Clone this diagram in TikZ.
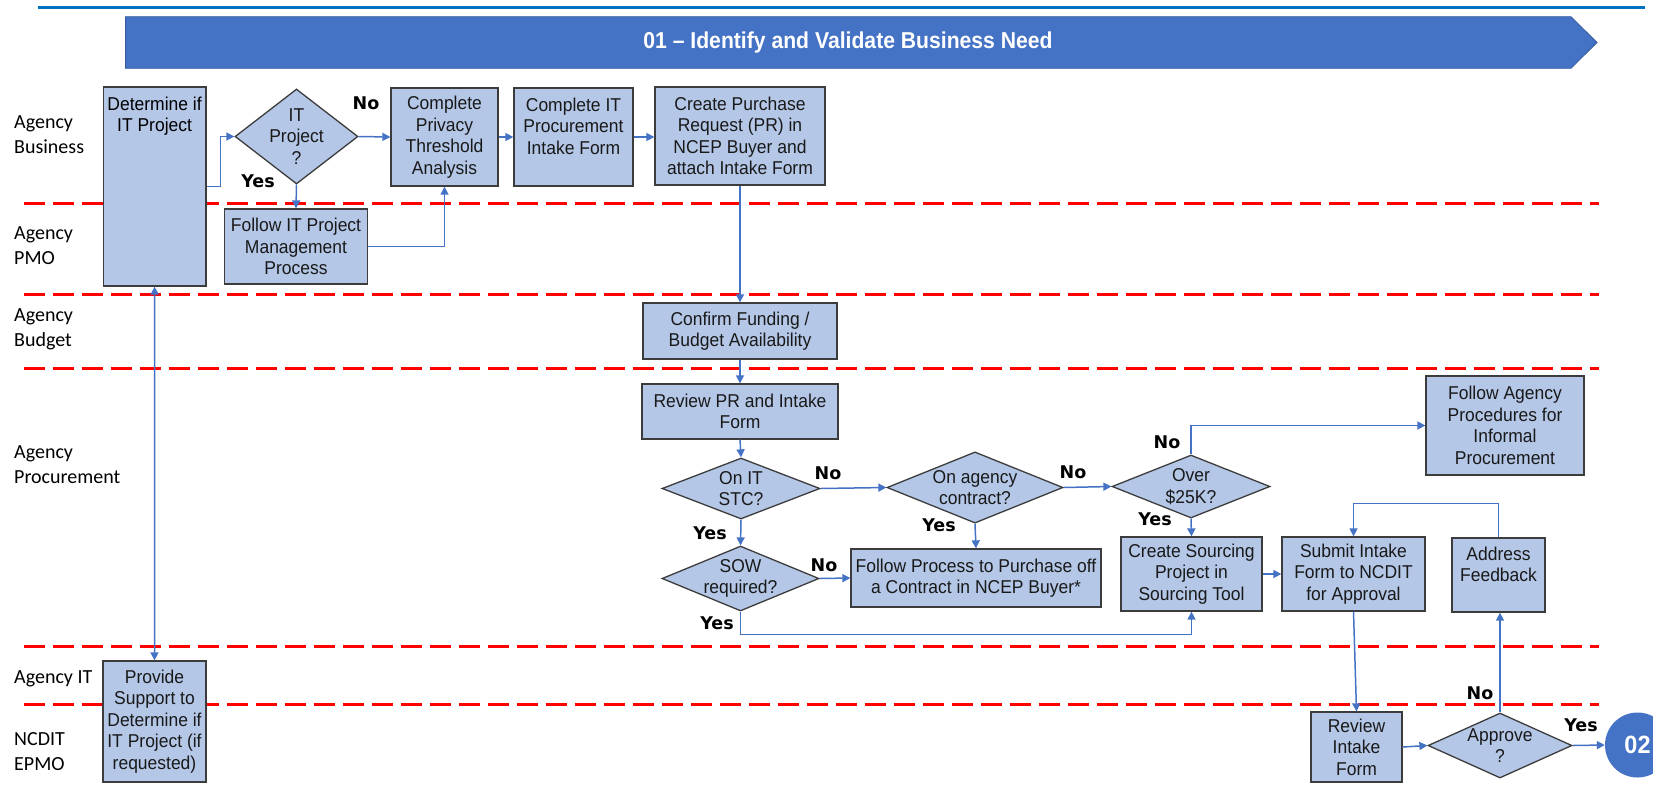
\documentclass[tikz,border=0pt]{standalone}
\usepackage{fontspec}
\setmainfont{Liberation Sans}[FakeStretch=0.94]
\newfontfamily\lanefamily{Carlito}
\newfontfamily\ansfamily{DejaVu Sans}
\newfontfamily\bannerfamily{Liberation Sans}[FakeStretch=0.92]
\usepackage{tikz}
\usetikzlibrary{
    arrows.meta,
    shapes.geometric
}
\definecolor{boxfill}{RGB}{180,199,231}
\definecolor{boxline}{RGB}{60,60,60}
\definecolor{flowblue}{RGB}{68,114,196}
\definecolor{bannerblue}{RGB}{68,114,196}
\definecolor{rulerblue}{RGB}{0,112,192}
\newcommand{\procfont}{\fontsize{18.6}{21.5}\selectfont}
\newcommand{\lanefont}{\lanefamily\fontsize{20}{25}\selectfont}
\newcommand{\ansfont}{\ansfamily\bfseries\fontsize{17.5}{21}\selectfont}
\newcommand{\bannerfont}{\bannerfamily\bfseries\fontsize{23}{26}\selectfont}
\tikzset{
    pbox/.style 2 args={draw=boxline, fill=boxfill, line width=1.3pt, font=\procfont, text=black!90,
        align=center, inner sep=1pt, minimum width=#1pt, minimum height=#2pt},
    dbox/.style 2 args={pbox={#1}{#2}, diamond, inner sep=-12pt},
    flow/.style={draw=flowblue, line width=1.5pt, -{Triangle[length=8pt,width=8pt]}},
    flowboth/.style={flow, {Triangle[length=8pt,width=8pt]}-{Triangle[length=8pt,width=8pt]}},
    lane/.style={font=\lanefont, anchor=west, align=left, inner sep=0pt},
    ans/.style={font=\ansfont, inner sep=0pt},
    lanesep/.style={red, line width=3pt, dash pattern=on 21pt off 8pt}
}

\begin{document}
\begin{tikzpicture}[x=1pt, y=-1pt]
        \useasboundingbox (0,0) rectangle (1653,785);

        % header
        \draw[rulerblue, line width=3pt] (37.5,7.3) -- (1645,7.3);
        \filldraw[fill=bannerblue, draw=bannerblue!80!black, line width=0.8pt]
            (125.5,16.7) -- (1571,16.7) -- (1597,42.5) -- (1571,68.3) -- (125.5,68.3) -- cycle;
        \draw (848,42.5) node[font=\bannerfont, text=white](banner){01 – Identify and Validate Business Need};

        % swimlanes
        \foreach \y in {203,294,368,646,704}
            \draw[lanesep] (23.7,\y) -- (1599,\y);
        \draw (14,134.5) node[lane](laneBus){Agency\\Business};
        \draw (14,245.5) node[lane](lanePmo){Agency\\PMO};
        \draw (14,329.5) node[lane](laneBud){Agency\\Budget};
        \draw (14,464.5) node[lane](laneProc){Agency\\Procurement};
        \draw (14,679) node[lane](laneIt){Agency IT};
        \draw (14,751.5) node[lane](laneEpmo){NCDIT\\EPMO};

        % steps
        \draw (154.6,186.5) node[pbox={102.6}{199},
            label={[font=\procfont, align=center, anchor=north, inner sep=0pt, yshift=-10pt]north:Determine if\\IT Project}](determine){};
        \draw (296.5,136.5) node[dbox={123}{95}](itproj){IT\\Project\\?};
        \draw (444.5,137) node[pbox={107}{98}](privacy){Complete\\Privacy\\Threshold\\Analysis};
        \draw (573.5,137) node[pbox={119}{98}](intake){Complete IT\\Procurement\\Intake Form\\\mbox{}};
        \draw (740,136) node[pbox={170}{98}](purchase){Create Purchase\\Request (PR) in\\NCEP Buyer and\\attach Intake Form};
        \draw (296,246.5) node[pbox={142.7}{75}](followpm){Follow IT Project\\Management\\Process};
        \draw (740,331) node[pbox={194}{56}](funding){Confirm Funding /\\Budget Availability};
        \draw (740,411.5) node[pbox={196}{55}](reviewpr){Review PR and Intake\\Form};
        \draw (741,488.5) node[dbox={158}{61}](onstc){On IT\\STC?};
        \draw (975,487.5) node[dbox={176}{63}](onagency){On agency\\contract?};
        \draw (1191,486.5) node[dbox={158}{63}](over){Over\\\$25K?};
        \draw (1505,425.5) node[pbox={158}{99}](informal){Follow Agency\\Procedures for\\Informal\\Procurement};
        \draw (740.5,578.5) node[dbox={157}{65}](sow){SOW\\required?};
        \draw (976,578) node[pbox={250}{58}](purchoff){Follow Process to Purchase off\\a Contract in NCEP Buyer*};
        \draw (1191.5,574) node[pbox={141}{74}](sourcing){Create Sourcing\\Project in\\Sourcing Tool};
        \draw (1353.5,574) node[pbox={143}{74}](submit){Submit Intake\\Form to NCDIT\\for Approval};
        \draw (1498.5,575) node[pbox={93}{74}](feedback){Address\\Feedback\\\mbox{}};
        \draw (154.5,721.5) node[pbox={103}{121}](support){Provide\\Support to\\Determine if\\IT Project (if\\requested)};
        \draw (1356.5,747) node[pbox={91}{70}](reviewform){Review\\Intake\\Form};
        \draw (1500,745.5) node[dbox={144}{65}](approve){Approve\\?};
        \draw (1637.5,745) node[circle, fill=bannerblue, minimum size=65pt, inner sep=0pt, text=white,
            font=\bfseries\fontsize{25}{28}\selectfont](next){02};

        % flows
        \draw[flow] (determine.east) -- ++(14,0) |- (itproj.west);
        \draw[flow] (itproj.east) -- (privacy.west);
        \draw[flow] (privacy.east) -- (intake.west);
        \draw[flow] (intake.east) -- (intake.east -| purchase.west);
        \draw[flow] (itproj.south) -- (followpm.north);
        \draw[flow] (followpm.east) -| (privacy.south);
        \draw[flowboth] (determine.south) -- (support.north);
        \draw[flow] (purchase.south) -- (funding.north);
        \draw[flow] (funding.south) -- (reviewpr.north);
        \draw[flow] (reviewpr.south) -- (onstc.north);
        \draw[flow] (onstc.east) -- (onagency.west);
        \draw[flow] (onagency.east) -- (over.west);
        \draw[flow] (onstc.south) -- (sow.north);
        \draw[flow] (onagency.south) -- (purchoff.north);
        \draw[flow] (sow.east) -- (purchoff.west);
        \draw[flow] (sow.south) -- ++(0,23) -| (sourcing.south);
        \draw[flow] (over.north) |- (informal.west);
        \draw[flow] (over.south) -- (sourcing.north);
        \draw[flow] (sourcing.east) -- (submit.west);
        \draw[flow] (submit.south) -- (reviewform.north);
        \draw[flow] (reviewform.east) -- (approve.west);
        \draw[flow] (approve.north) -- (approve.north |- feedback.south);
        \draw[flow] (feedback.north) -- ++(0,-34) -| (submit.north);
        \draw[flow] (approve.east) -- (next.west);

        % answers
        \draw (366,103) node[ans](noIt){No};
        \draw (258,181) node[ans](yesIt){Yes};
        \draw (828,473) node[ans](noStc){No};
        \draw (710,533) node[ans](yesStc){Yes};
        \draw (1073,472) node[ans](noAg){No};
        \draw (939,525) node[ans](yesAg){Yes};
        \draw (824,565) node[ans](noSow){No};
        \draw (717,623) node[ans](yesSow){Yes};
        \draw (1167,442) node[ans](noOver){No};
        \draw (1155,519) node[ans](yesOver){Yes};
        \draw (1480,693) node[ans](noAppr){No};
        \draw (1581,725) node[ans](yesAppr){Yes};
    \end{tikzpicture}
\end{document}
